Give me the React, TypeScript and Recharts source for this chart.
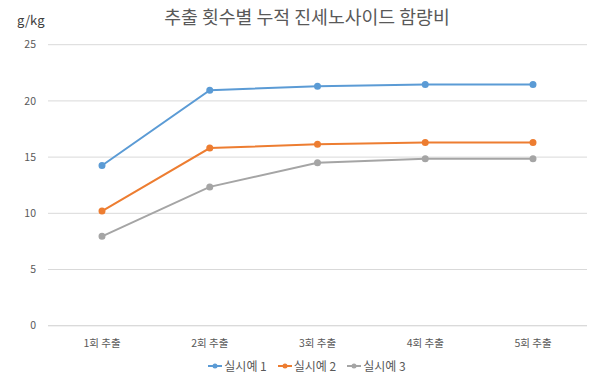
import React from 'react';
import { LineChart, Line, XAxis, YAxis, CartesianGrid } from 'recharts';

const categories = ['1회 추출', '2회 추출', '3회 추출', '4회 추출', '5회 추출'];
const series1 = [14.25, 20.95, 21.3, 21.45, 21.45];
const series2 = [10.2, 15.8, 16.15, 16.3, 16.3];
const series3 = [7.95, 12.35, 14.5, 14.85, 14.85];
const seriesNames = ['실시예 1', '실시예 2', '실시예 3'];
const colors = ['#5B9BD5', '#ED7D31', '#A5A5A5'];
const yTicks = [0, 5, 10, 15, 20, 25];

const data = categories.map((c, i) => ({
  name: c,
  s1: series1[i],
  s2: series2[i],
  s3: series3[i],
}));

const FONT = '"Noto Sans CJK KR", "Noto Sans", sans-serif';

export default function App() {
  return (
    <div style={{ position: 'absolute', left: 0, top: 0, width: 612, height: 381, background: '#fff' }}>
      <div
        style={{
          position: 'absolute',
          left: 0,
          top: 3,
          width: 614,
          textAlign: 'center',
          fontFamily: FONT,
          fontSize: 18.3,
          color: '#595959',
          whiteSpace: 'nowrap',
        }}
      >
        추출 횟수별 누적 진세노사이드 함량비
      </div>
      <div
        style={{
          position: 'absolute',
          left: 17,
          top: 10,
          fontFamily: FONT,
          fontSize: 13,
          color: '#404040',
        }}
      >
        g/kg
      </div>
      <LineChart
        width={612}
        height={381}
        data={data}
        margin={{ top: 44.7, right: 25, left: 8, bottom: 0 }}
      >
        <CartesianGrid vertical={false} stroke="#D9D9D9" strokeWidth={1} />
        <XAxis
          dataKey="name"
          axisLine={{ stroke: '#D9D9D9' }}
          tickLine={false}
          tickSize={0}
          tickMargin={14}
          padding={{ left: 54, right: 54 }}
          tick={{ fontSize: 10.5, fill: '#595959', fontFamily: FONT }}
          height={55.3}
        />
        <YAxis
          domain={[0, 25]}
          ticks={yTicks}
          axisLine={false}
          tickLine={false}
          tickSize={0}
          tickMargin={12}
          width={40}
          tick={{ fontSize: 10.5, fill: '#595959', fontFamily: FONT }}
        />
        <Line dataKey="s1" name={seriesNames[0]} stroke={colors[0]} strokeWidth={2} dot={{ r: 2.5, fill: colors[0], stroke: colors[0] }} isAnimationActive={false} />
        <Line dataKey="s2" name={seriesNames[1]} stroke={colors[1]} strokeWidth={2} dot={{ r: 2.5, fill: colors[1], stroke: colors[1] }} isAnimationActive={false} />
        <Line dataKey="s3" name={seriesNames[2]} stroke={colors[2]} strokeWidth={2} dot={{ r: 2.5, fill: colors[2], stroke: colors[2] }} isAnimationActive={false} />
      </LineChart>
      <div
        style={{
          position: 'absolute',
          left: 0,
          top: 357,
          width: 614,
          display: 'flex',
          justifyContent: 'center',
          fontFamily: FONT,
          fontSize: 12,
          color: '#595959',
          whiteSpace: 'nowrap',
        }}
      >
        {seriesNames.map((n, i) => (
          <div key={n} style={{ display: 'flex', alignItems: 'center', marginRight: i < 2 ? 11 : 0 }}>
            <svg width={14} height={8} style={{ marginRight: 2 }}>
              <line x1={0} y1={4} x2={14} y2={4} stroke={colors[i]} strokeWidth={2} />
              <circle cx={7} cy={4} r={2.5} fill={colors[i]} />
            </svg>
            <span>{n}</span>
          </div>
        ))}
      </div>
    </div>
  );
}
